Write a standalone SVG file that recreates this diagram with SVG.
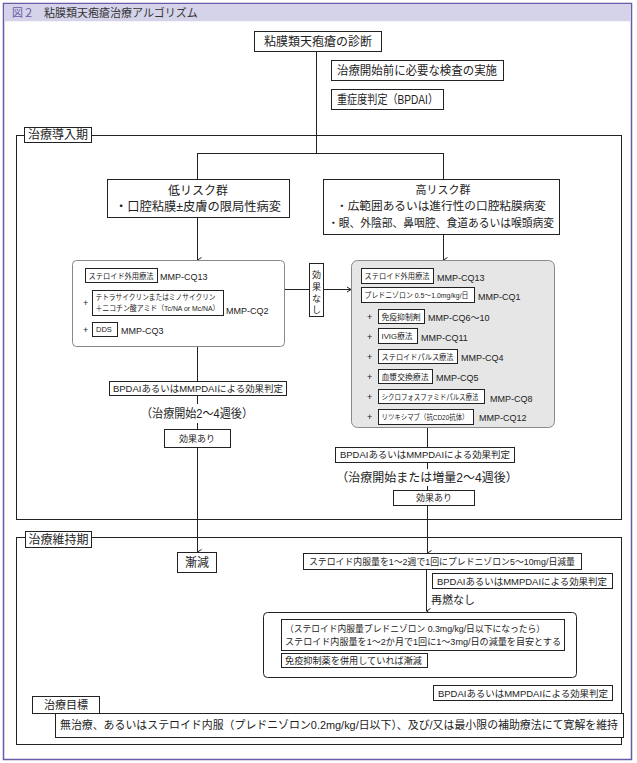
<svg xmlns="http://www.w3.org/2000/svg" width="637" height="763" viewBox="0 0 637 763">
<defs>
<marker id="arr" markerWidth="8" markerHeight="8" refX="4" refY="6" orient="auto" markerUnits="userSpaceOnUse" viewBox="0 0 8 8">
<polyline points="1.5,2 4,6 6.5,2" fill="none" stroke="#222" stroke-width="1"/>
</marker>
<marker id="arrR" markerWidth="8" markerHeight="8" refX="6" refY="4" orient="0" markerUnits="userSpaceOnUse" viewBox="0 0 8 8">
<polyline points="2,1.5 6,4 2,6.5" fill="none" stroke="#222" stroke-width="1"/>
</marker>
</defs>
<style>
text{font-family:"Liberation Sans","Noto Sans CJK JP",sans-serif;fill:#222}
.b{fill:#fff;stroke:#222;stroke-width:1}
.ln{stroke:#222;stroke-width:1;fill:none}
.t12{font-size:12px}
.t11{font-size:11px}
.t9{font-size:9px}
.t7{font-size:7.5px}
.c{text-anchor:middle}
</style>
<rect x="0" y="0" width="637" height="763" fill="#fff"/>
<rect x="3.5" y="3.5" width="628" height="756" fill="#fff" stroke="#6a5aa8" stroke-width="1.5"/>
<rect x="4.25" y="4.25" width="626.5" height="17" fill="#d5d3ea"/>
<text x="12" y="17" font-size="11" style="fill:#6a5aa8">図２</text>
<text x="44" y="17" font-size="11" style="fill:#333">粘膜類天疱瘡治療アルゴリズム</text>

<g id="frames">
<rect x="16.5" y="135.5" width="605" height="384" class="ln"/>
<rect x="16.5" y="537.5" width="605" height="207" class="ln"/>
</g>

<g id="connectors" class="ln">
<line x1="316.5" y1="52" x2="316.5" y2="153.5"/>
<line x1="197.5" y1="153.5" x2="443.5" y2="153.5"/>
<line x1="197.5" y1="153" x2="197.5" y2="179"/>
<line x1="443.5" y1="153" x2="443.5" y2="179"/>
<line x1="197.5" y1="217" x2="197.5" y2="260" marker-end="url(#arr)"/>
<line x1="443.5" y1="235" x2="443.5" y2="260" marker-end="url(#arr)"/>
<line x1="284" y1="289.5" x2="309" y2="289.5"/>
<line x1="323" y1="289.5" x2="351" y2="289.5" marker-end="url(#arrR)"/>
<line x1="197.5" y1="346" x2="197.5" y2="381"/>
<line x1="197.5" y1="395" x2="197.5" y2="404"/>
<line x1="197.5" y1="423" x2="197.5" y2="429"/>
<line x1="197.5" y1="447" x2="197.5" y2="552" marker-end="url(#arr)"/>
<line x1="427.5" y1="427" x2="427.5" y2="447"/>
<line x1="427.5" y1="462" x2="427.5" y2="469"/>
<line x1="427.5" y1="486" x2="427.5" y2="490"/>
<line x1="427.5" y1="505" x2="427.5" y2="553" marker-end="url(#arr)"/>
<line x1="426.5" y1="569" x2="426.5" y2="611" marker-end="url(#arr)"/>
</g>

<g id="diagnosis">
<rect x="254.5" y="31.5" width="127" height="20" class="b"/>
<text x="318" y="46" class="t12 c">粘膜類天疱瘡の診断</text>
</g>
<g id="exam">
<rect x="331.5" y="60.5" width="172" height="20" class="b"/>
<text x="337" y="75" class="t12" textLength="160" lengthAdjust="spacingAndGlyphs">治療開始前に必要な検査の実施</text>
</g>
<g id="severity">
<rect x="331.5" y="89.5" width="112" height="20" class="b"/>
<text x="337" y="104" class="t12" textLength="101" lengthAdjust="spacingAndGlyphs">重症度判定（BPDAI）</text>
</g>
<g id="label-induction">
<rect x="24.5" y="127.5" width="67" height="15" class="b"/>
<text x="58" y="139" class="t12 c">治療導入期</text>
</g>
<g id="low-risk">
<rect x="107.5" y="179.5" width="182" height="38" class="b"/>
<text x="198" y="195" class="t12 c">低リスク群</text>
<text x="198" y="211" class="t12 c" textLength="166" lengthAdjust="spacingAndGlyphs">・口腔粘膜±皮膚の限局性病変</text>
</g>
<g id="high-risk">
<rect x="323.5" y="179.5" width="236" height="55" class="b"/>
<text x="443" y="194" class="t11 c">高リスク群</text>
<text x="441" y="210" class="t11 c" textLength="210" lengthAdjust="spacingAndGlyphs">・広範囲あるいは進行性の口腔粘膜病変</text>
<text x="441" y="227" class="t11 c" textLength="226" lengthAdjust="spacingAndGlyphs">・眼、外陰部、鼻咽腔、食道あるいは喉頭病変</text>
</g>

<g id="low-panel">
<rect x="72.5" y="260.5" width="212" height="86" rx="4" fill="#fff" stroke="#888" stroke-width="1"/>
<rect x="85.5" y="268.5" width="72" height="14" class="b"/>
<text x="88.5" y="279" class="t7" textLength="65" lengthAdjust="spacingAndGlyphs">ステロイド外用療法</text>
<text x="160" y="280" class="t9">MMP-CQ13</text>
<text x="83" y="306" class="t9">+</text>
<rect x="92.5" y="290.5" width="131" height="25" class="b"/>
<text x="95.5" y="300" class="t7" textLength="120" lengthAdjust="spacingAndGlyphs">テトラサイクリンまたはミノサイクリン</text>
<text x="95.5" y="311" class="t7" textLength="124" lengthAdjust="spacingAndGlyphs">＋ニコチン酸アミド（Tc/NA or Mc/NA）</text>
<text x="226" y="314" class="t9">MMP-CQ2</text>
<text x="83" y="333" class="t9">+</text>
<rect x="92.5" y="322.5" width="25" height="14" class="b"/>
<text x="96" y="332" class="t7">DDS</text>
<text x="121" y="334" class="t9">MMP-CQ3</text>
</g>

<g id="no-effect">
<rect x="309.5" y="263.5" width="14" height="53" class="b"/>
<text x="316.5" y="278" class="t9 c">効</text>
<text x="316.5" y="290" class="t9 c">果</text>
<text x="316.5" y="302" class="t9 c">な</text>
<text x="316.5" y="313" class="t9 c">し</text>
</g>

<g id="high-panel">
<rect x="351.5" y="260.5" width="203" height="167" rx="6" fill="#e6e6e6" stroke="#888" stroke-width="1"/>
<rect x="361.5" y="268.5" width="72" height="15" class="b"/>
<text x="364.5" y="279" class="t7" textLength="65" lengthAdjust="spacingAndGlyphs">ステロイド外用療法</text>
<text x="437" y="281" class="t9">MMP-CQ13</text>
<rect x="361.5" y="287.5" width="113" height="15" class="b"/>
<text x="364.5" y="298" class="t7" textLength="104" lengthAdjust="spacingAndGlyphs">プレドニゾロン 0.5～1.0mg/kg/日</text>
<text x="478" y="300" class="t9">MMP-CQ1</text>
<text x="367" y="320" class="t9">+</text>
<rect x="378.5" y="309.5" width="46" height="14" class="b"/>
<text x="381.5" y="320" class="t7" textLength="39" lengthAdjust="spacingAndGlyphs">免疫抑制剤</text>
<text x="428" y="321" class="t9">MMP-CQ6～10</text>
<text x="367" y="340" class="t9">+</text>
<rect x="378.5" y="328.5" width="39" height="15" class="b"/>
<text x="381.5" y="339" class="t7" textLength="31" lengthAdjust="spacingAndGlyphs">IVIG療法</text>
<text x="421" y="341" class="t9">MMP-CQ11</text>
<text x="367" y="360" class="t9">+</text>
<rect x="378.5" y="349.5" width="79" height="14" class="b"/>
<text x="381.5" y="360" class="t7" textLength="72" lengthAdjust="spacingAndGlyphs">ステロイドパルス療法</text>
<text x="461" y="361" class="t9">MMP-CQ4</text>
<text x="367" y="380" class="t9">+</text>
<rect x="378.5" y="369.5" width="54" height="14" class="b"/>
<text x="381.5" y="380" class="t7" textLength="47" lengthAdjust="spacingAndGlyphs">血漿交換療法</text>
<text x="436" y="381" class="t9">MMP-CQ5</text>
<text x="367" y="400" class="t9">+</text>
<rect x="378.5" y="389.5" width="106" height="14" class="b"/>
<text x="381.5" y="400" class="t7" textLength="97" lengthAdjust="spacingAndGlyphs">シクロフォスファミドパルス療法</text>
<text x="490" y="402" class="t9">MMP-CQ8</text>
<text x="367" y="420" class="t9">+</text>
<rect x="378.5" y="409.5" width="95" height="15" class="b"/>
<text x="381.5" y="420" class="t7" textLength="87" lengthAdjust="spacingAndGlyphs">リツキシマブ（抗CD20抗体）</text>
<text x="479" y="421" class="t9">MMP-CQ12</text>
</g>

<g id="eval-left">
<rect x="109.5" y="381.5" width="177" height="14" class="b"/>
<text x="198" y="392" class="t9 c" textLength="170" lengthAdjust="spacingAndGlyphs">BPDAIあるいはMMPDAIによる効果判定</text>
<text x="197" y="418" class="t12 c" textLength="112" lengthAdjust="spacingAndGlyphs">（治療開始2～4週後）</text>
<rect x="164.5" y="429.5" width="66" height="18" class="b"/>
<text x="197" y="442" class="t9 c">効果あり</text>
</g>

<g id="eval-right">
<rect x="335.5" y="447.5" width="179" height="15" class="b"/>
<text x="425" y="458" class="t9 c" textLength="170" lengthAdjust="spacingAndGlyphs">BPDAIあるいはMMPDAIによる効果判定</text>
<text x="427" y="482" class="t12 c">（治療開始または増量2～4週後）</text>
<rect x="393.5" y="490.5" width="81" height="15" class="b"/>
<text x="434" y="501" class="t9 c">効果あり</text>
</g>

<g id="label-maintenance">
<rect x="25.5" y="531.5" width="66" height="16" class="b"/>
<text x="58.5" y="544" class="t12 c">治療維持期</text>
</g>
<g id="taper">
<rect x="177.5" y="552.5" width="39" height="20" class="b"/>
<text x="197" y="567" class="t12 c">漸減</text>
</g>
<g id="steroid-reduce">
<rect x="303.5" y="553.5" width="278" height="16" class="b"/>
<text x="442" y="565" class="t9 c" textLength="266" lengthAdjust="spacingAndGlyphs">ステロイド内服量を1～2週で1回にプレドニゾロン5～10mg/日減量</text>
</g>
<g id="eval-m1">
<rect x="432.5" y="573.5" width="180" height="15" class="b"/>
<text x="522" y="585" class="t9 c" textLength="170" lengthAdjust="spacingAndGlyphs">BPDAIあるいはMMPDAIによる効果判定</text>
</g>
<text x="431" y="604" class="t11">再燃なし</text>
<g id="maintenance-box">
<rect x="263.5" y="612.5" width="313" height="65" rx="4" class="b"/>
<rect x="281.5" y="619.5" width="283" height="31" class="b"/>
<text x="285" y="632" class="t9" textLength="260" lengthAdjust="spacingAndGlyphs">（ステロイド内服量プレドニゾロン 0.3mg/kg/日以下になったら）</text>
<text x="285" y="645" class="t9" textLength="276" lengthAdjust="spacingAndGlyphs">ステロイド内服量を1～2か月で1回に1～3mg/日の減量を目安とする</text>
<rect x="281.5" y="653.5" width="146" height="14" class="b"/>
<text x="285" y="664" class="t9" textLength="137" lengthAdjust="spacingAndGlyphs">免疫抑制薬を併用していれば漸減</text>
</g>
<g id="eval-m2">
<rect x="433.5" y="685.5" width="179" height="15" class="b"/>
<text x="523" y="697" class="t9 c" textLength="170" lengthAdjust="spacingAndGlyphs">BPDAIあるいはMMPDAIによる効果判定</text>
</g>
<g id="goal-label">
<rect x="32.5" y="696.5" width="67" height="17" class="b"/>
<text x="66" y="709" class="t11 c">治療目標</text>
</g>
<g id="goal">
<rect x="55.5" y="713.5" width="568" height="24" class="b"/>
<text x="60" y="729" class="t11" textLength="558" lengthAdjust="spacingAndGlyphs">無治療、あるいはステロイド内服（プレドニゾロン0.2mg/kg/日以下）、及び/又は最小限の補助療法にて寛解を維持</text>
</g>
</svg>
